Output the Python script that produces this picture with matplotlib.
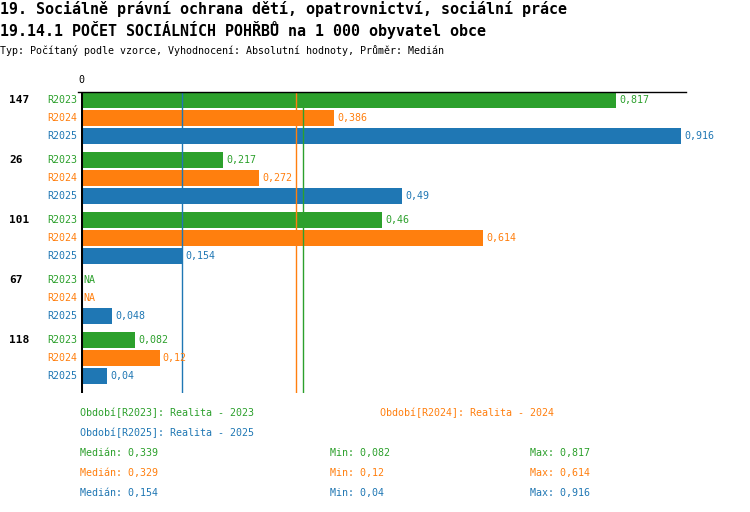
import matplotlib
matplotlib.use("Agg")
import matplotlib.pyplot as plt
import numpy as np

# data
categories = ["147", "26", "101", "67", "118"]
series = ["R2023", "R2024", "R2025"]
period_names = ["Realita - 2023", "Realita - 2024", "Realita - 2025"]
r2023 = [0.817, 0.217, 0.46, np.nan, 0.082]
r2024 = [0.386, 0.272, 0.614, np.nan, 0.12]
r2025 = [0.916, 0.49, 0.154, 0.048, 0.04]
colors = ["#2ca02c", "#ff7f0e", "#1f77b4"]

title1 = "19. Sociálně právní ochrana dětí, opatrovnictví, sociální práce"
title2 = "19.14.1 POČET SOCIÁLNÍCH POHŘBŮ na 1 000 obyvatel obce"
subtitle = "Typ: Počítaný podle vzorce, Vyhodnocení: Absolutní hodnoty, Průměr: Medián"

MONO = "DejaVu Sans Mono"
W, H = 750, 512


def fmt(v):
    s = f"{v + 1e-9:.3f}".rstrip("0").rstrip(".")
    return s.replace(".", ",")


def fx(px):
    return px / W


def fy(py):
    return 1 - py / H


fig = plt.figure(figsize=(W / 100, H / 100), dpi=100)
fig.patch.set_facecolor("white")

# plot area in pixels: x 81..686, y 92..393
ax = fig.add_axes([fx(81), fy(393), fx(686) - fx(81), fy(92) - fy(393)])
row = 18.0
xmax = 0.924
ax.set_xlim(0, xmax)
ax.set_ylim((393 - 100) / row, (92 - 100) / row)
ax.axis("off")

values = [r2023, r2024, r2025]
group_step = 60 / row
for g, cat in enumerate(categories):
    base = g * group_step
    for s, name in enumerate(series):
        y = base + s
        v = values[s][g]
        c = colors[s]
        ax.text(-0.005, y, name, color=c, ha="right", va="center",
                fontsize=7.2, family=MONO, clip_on=False)
        if np.isnan(v):
            ax.text(0.004, y, "NA", color=c, ha="left", va="center",
                    fontsize=7.2, family=MONO)
        else:
            ax.barh(y, v, height=16 / row, color=c, linewidth=0)
            ax.text(v + 0.005, y, fmt(v), color=c, ha="left", va="center",
                    fontsize=7.2, family=MONO, clip_on=False)
    ax.text(-0.11, base, cat, color="black", ha="left", va="center",
            fontsize=8, family=MONO, fontweight="bold", clip_on=False)

# median lines
medians = [np.nanmedian(v) for v in values]
for m, c in zip(medians, colors):
    ax.axvline(m, color=c, linewidth=1)

# axes lines
ax.plot([-0.005, xmax], [ax.get_ylim()[1]] * 2, color="black", linewidth=1,
        clip_on=False)
ax.axvline(0, color="black", linewidth=2.2)
ax.text(0, (80 - 100) / row, "0", ha="center", va="center", fontsize=7.2,
        family=MONO, clip_on=False)

# titles
fig.text(fx(0), fy(9), title1, ha="left", va="center", fontsize=10.8,
         family=MONO, fontweight="bold")
fig.text(fx(0), fy(30), title2, ha="left", va="center", fontsize=10.8,
         family=MONO, fontweight="bold")
fig.text(fx(0), fy(50), subtitle, ha="left", va="center", fontsize=7.2,
         family=MONO)

# legend
leg_pos = [(80, 413), (380, 413), (80, 433)]
for (px, py), name, pname, c in zip(leg_pos, series, period_names, colors):
    fig.text(fx(px), fy(py), f"Období[{name}]: {pname}", color=c, ha="left",
             va="center", fontsize=7.2, family=MONO)

for i, (v, c) in enumerate(zip(values, colors)):
    py = 453 + i * 20
    arr = np.array(v, dtype=float)
    fig.text(fx(80), fy(py), f"Medián: {fmt(np.nanmedian(arr))}", color=c,
             ha="left", va="center", fontsize=7.2, family=MONO)
    fig.text(fx(330), fy(py), f"Min: {fmt(np.nanmin(arr))}", color=c,
             ha="left", va="center", fontsize=7.2, family=MONO)
    fig.text(fx(530), fy(py), f"Max: {fmt(np.nanmax(arr))}", color=c,
             ha="left", va="center", fontsize=7.2, family=MONO)

fig.savefig("out.png", dpi=100)
